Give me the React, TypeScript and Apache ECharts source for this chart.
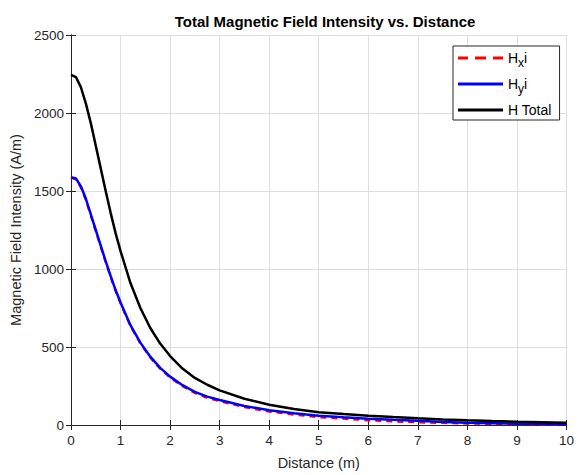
import React, { useEffect, useRef } from "react";
import * as echarts from "echarts";

const distance = [0, 0.1, 0.2, 0.3, 0.4, 0.5, 0.6, 0.7, 0.8, 0.9, 1.0, 1.2, 1.4, 1.6, 1.8, 2.0, 2.25, 2.5, 2.75, 3.0, 3.5, 4.0, 4.5, 5.0, 5.5, 6.0, 6.5, 7.0, 7.5, 8.0, 8.5, 9.0, 9.5, 10];
const hTotal = [2245, 2230, 2165, 2060, 1935, 1790, 1645, 1500, 1360, 1230, 1115, 910, 750, 622, 522, 442, 362, 302, 258, 222, 168, 130, 102, 82, 70, 60, 51, 43, 36, 30, 25, 21, 18, 15];
const hy = [1588, 1580, 1530, 1450, 1350, 1250, 1150, 1050, 955, 865, 785, 640, 528, 438, 366, 310, 255, 212, 182, 160, 122, 95, 75, 60, 49, 40, 33, 27, 20, 14, 11, 8, 6, 4];
const hx = [1585, 1574, 1522, 1442, 1342, 1242, 1142, 1043, 948, 858, 778, 634, 522, 432, 360, 304, 248, 205, 174, 153, 114, 86, 66, 50, 40, 30, 23, 17, 13, 9, 7, 5, 3, 2];

const seriesNames = ["Hxi", "Hyi", "H Total"];
const xTicks = { min: 0, max: 10, interval: 1 };
const yTicks = { min: 0, max: 2500, interval: 500 };

const FONT = "Liberation Sans, Arial, Helvetica, sans-serif";
const INK = "#262626";

const DASH_ICON = "path://M0,0H10V3H0Z M17,0H28V3H17Z M35,0H45V3H35Z";
const SOLID_ICON = "path://M0,0H45V3H0Z";

export default function App() {
  const ref = useRef<HTMLDivElement>(null);
  useEffect(() => {
    if (!ref.current) return;
    const chart = echarts.init(ref.current, null, { renderer: "svg" });
    const pairs = (ys: number[]) => distance.map((d, i) => [d, ys[i]]);
    const axisCommon = {
      axisLine: { show: true, lineStyle: { color: INK, width: 1 } },
      axisTick: { show: true, inside: true, length: 5, lineStyle: { color: INK } },
      splitLine: { show: false },
    };
    const plain = (v: number) => String(v);
    chart.setOption({
      animation: false,
      backgroundColor: "#ffffff",
      title: {
        text: "Total Magnetic Field Intensity vs. Distance",
        left: 320,
        textAlign: "center",
        top: 9,
        textStyle: { fontFamily: FONT, fontSize: 15, fontWeight: "bold", color: "#000" },
      },
      grid: { left: 71, top: 35, right: 7, bottom: 49, containLabel: false },
      legend: {
        orient: "vertical",
        left: 453,
        top: 46,
        width: 104,
        padding: [5, 8, 3, 5],
        itemGap: 8,
        itemWidth: 45,
        itemHeight: 3,
        backgroundColor: "#fff",
        borderColor: INK,
        borderWidth: 1,
        borderRadius: 0,
        data: [
          { name: seriesNames[0], icon: DASH_ICON, itemStyle: { color: "#ff0000" } },
          { name: seriesNames[1], icon: SOLID_ICON, itemStyle: { color: "#0000ff" } },
          { name: seriesNames[2], icon: SOLID_ICON, itemStyle: { color: "#000000" } },
        ],
        formatter: (name: string) => {
          if (name === "Hxi") return "{m|H}{s|x}{m|i}";
          if (name === "Hyi") return "{m|H}{s|y}{m|i}";
          return "{m|H Total}";
        },
        textStyle: {
          fontFamily: FONT,
          fontSize: 14,
          color: "#000",
          padding: [0, 0, 0, 0],
          rich: {
            m: { fontFamily: FONT, fontSize: 14, color: "#000" },
            s: { fontFamily: FONT, fontSize: 12, color: "#000", verticalAlign: "bottom", padding: [10, 0, 0, 0] },
          },
        },
      },
      xAxis: [
        {
          type: "value",
          ...xTicks,
          position: "bottom",
          name: "Distance (m)",
          nameLocation: "middle",
          nameGap: 30,
          nameTextStyle: { fontFamily: FONT, fontSize: 14.5, color: INK },
          ...axisCommon,
          splitLine: { show: true, lineStyle: { color: "#dedede", width: 1 } },
          axisLabel: { fontFamily: FONT, fontSize: 13.5, color: INK, margin: 8, formatter: plain },
        },
        {
          type: "value",
          ...xTicks,
          position: "top",
          ...axisCommon,
          axisLabel: { show: false },
        },
      ],
      yAxis: [
        {
          type: "value",
          ...yTicks,
          position: "left",
          name: "Magnetic Field Intensity (A/m)",
          nameLocation: "middle",
          nameGap: 45,
          nameTextStyle: { fontFamily: FONT, fontSize: 14.5, color: INK },
          ...axisCommon,
          splitLine: { show: true, lineStyle: { color: "#dedede", width: 1 } },
          axisLabel: { fontFamily: FONT, fontSize: 13.5, color: INK, margin: 7, formatter: plain },
        },
        {
          type: "value",
          ...yTicks,
          position: "right",
          ...axisCommon,
          axisLabel: { show: false },
        },
      ],
      series: [
        {
          name: seriesNames[0],
          type: "line",
          data: pairs(hx),
          showSymbol: false,
          symbol: "none",
          smooth: false,
          lineStyle: { color: "#ff0000", width: 2.2, type: [6, 5] },
          itemStyle: { color: "#ff0000" },
        },
        {
          name: seriesNames[1],
          type: "line",
          data: pairs(hy),
          showSymbol: false,
          symbol: "none",
          smooth: false,
          lineStyle: { color: "#0000ff", width: 2.5 },
          itemStyle: { color: "#0000ff" },
        },
        {
          name: seriesNames[2],
          type: "line",
          data: pairs(hTotal),
          showSymbol: false,
          symbol: "none",
          smooth: false,
          lineStyle: { color: "#000000", width: 2.5 },
          itemStyle: { color: "#000000" },
        },
      ],
    });
    return () => chart.dispose();
  }, []);
  return <div ref={ref} style={{ position: "fixed", left: 0, top: 0, width: 577, height: 475 }} />;
}
